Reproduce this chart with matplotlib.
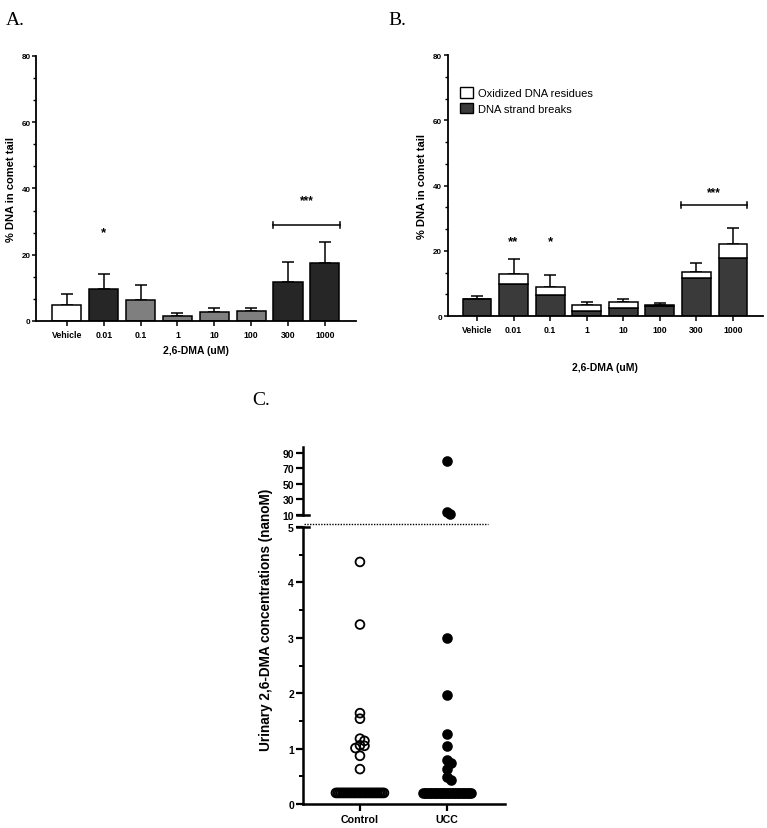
import numpy as np
import matplotlib
matplotlib.use('Agg')
from matplotlib import pyplot as plt
from matplotlib.ticker import AutoMinorLocator, MultipleLocator
from matplotlib.patches import Patch

# ---- data ----
doses = ['Vehicle', '0.01', '0.1', '1', '10', '100', '300', '1000']

# panel A: % DNA in comet tail (mean, upper error)
a_mean = [4.9, 9.7, 6.4, 1.5, 2.7, 3.0, 11.7, 17.5]
a_err = [3.2, 4.4, 4.4, 0.8, 1.1, 1.0, 6.2, 6.4]
a_colors = ['white', '#262626', '#7f7f7f', '#7f7f7f', '#7f7f7f', '#7f7f7f', '#262626', '#262626']

# panel B: strand breaks + oxidized residues (stacked), upper error on total
b_breaks = [5.2, 9.8, 6.3, 1.4, 2.6, 3.1, 11.7, 17.7]
b_oxid = [0.0, 3.2, 2.5, 1.9, 1.6, 0.2, 1.7, 4.4]
b_err = [0.8, 4.4, 3.7, 1.1, 0.9, 0.7, 3.0, 5.0]

# panel C: urinary 2,6-DMA (nanoM)
control_vals = [4.37, 3.24, 1.64, 1.54, 1.18, 1.14, 1.06, 1.05, 1.01, 0.87, 0.63]
ucc_vals = [79.0, 14.0, 11.0, 3.0, 1.97, 1.27, 1.05, 0.80, 0.74, 0.63, 0.48, 0.44]
control_n_low = 30   # samples at 0.2 (below LOD)
ucc_n_low = 30
low_value = 0.2

plt.rcParams['font.family'] = ['Liberation Sans', 'DejaVu Sans']
plt.rcParams['font.weight'] = 'bold'

fig = plt.figure(figsize=(7.67, 8.29), dpi=100)


def style_bar_axes(ax):
    for s in ['top', 'right']:
        ax.spines[s].set_visible(False)
    for s in ['left', 'bottom']:
        ax.spines[s].set_linewidth(1.3)
    ax.set_ylim(0, 80)
    ax.yaxis.set_major_locator(MultipleLocator(20))
    ax.yaxis.set_minor_locator(AutoMinorLocator(3))
    ax.tick_params(axis='y', which='major', length=3, width=1.1, labelsize=5.8, pad=1)
    ax.tick_params(axis='y', which='minor', length=2, width=1.0)
    ax.tick_params(axis='x', length=3.5, width=1.1, labelsize=6.3, pad=3)
    ax.set_ylabel('% DNA in comet tail', fontsize=8, fontweight='bold', labelpad=4)


def bracket(ax, x0, x1, y, txt, ty):
    ax.plot([x0, x1], [y, y], color='black', lw=1.1)
    ax.plot([x0, x0], [y - 0.9, y + 0.9], color='black', lw=1.1)
    ax.plot([x1, x1], [y - 0.9, y + 0.9], color='black', lw=1.1)
    ax.text((x0 + x1) / 2, ty, txt, ha='center', va='center', fontsize=8.5, fontweight='bold')


x = np.arange(len(doses))
bw = 0.79

# ---- A ----
axA = fig.add_axes([0.0469, 0.6116, 0.417, 0.3197])
axA.bar(x, a_mean, width=bw, color=a_colors, edgecolor='black', linewidth=1.1, zorder=2)
axA.errorbar(x, a_mean, yerr=[np.zeros(len(x)), a_err], fmt='none', ecolor='black',
             elinewidth=1.1, capsize=4.5, capthick=1.1, zorder=1)
style_bar_axes(axA)
axA.set_xlim(-0.84, 7.84)
axA.set_xticks(x)
axA.set_xticklabels(doses, fontweight='bold')
axA.set_xlabel('2,6-DMA (uM)', fontsize=7.5, fontweight='bold', labelpad=4)
axA.text(1, 26.7, '*', ha='center', va='center', fontsize=9.5, fontweight='bold')
bracket(axA, 5.6, 7.4, 28.9, '***', 36.6)
fig.text(0.008, 0.985, 'A.', family='Liberation Serif', fontweight='normal', fontsize=14, va='top')

# ---- B ----
axB = fig.add_axes([0.5837, 0.6176, 0.411, 0.3148])
b_total = np.array(b_breaks) + np.array(b_oxid)
axB.bar(x, b_breaks, width=bw, color='#3a3a3a', edgecolor='black', linewidth=1.1, zorder=2,
        label='DNA strand breaks')
axB.bar(x, b_oxid, bottom=b_breaks, width=bw, color='white', edgecolor='black', linewidth=1.1,
        zorder=2, label='Oxidized DNA residues')
axB.errorbar(x, b_total, yerr=[np.zeros(len(x)), b_err], fmt='none', ecolor='black',
             elinewidth=1.1, capsize=4.5, capthick=1.1, zorder=1)
style_bar_axes(axB)
axB.set_xlim(-0.80, 7.82)
axB.set_xticks(x)
axB.set_xticklabels(doses, fontweight='bold')
axB.set_xlabel('2,6-DMA (uM)', fontsize=7.5, fontweight='bold', labelpad=20)
axB.text(1, 22.9, '**', ha='center', va='center', fontsize=9.5, fontweight='bold')
axB.text(2, 22.9, '*', ha='center', va='center', fontsize=9.5, fontweight='bold')
bracket(axB, 5.57, 7.38, 33.9, '***', 38.0)
handles = [Patch(facecolor='white', edgecolor='black', linewidth=1.0),
           Patch(facecolor='#3a3a3a', edgecolor='black', linewidth=1.0)]
axB.legend(handles, ['Oxidized DNA residues', 'DNA strand breaks'], loc='upper left',
           bbox_to_anchor=(0.04, 0.877), frameon=False, borderaxespad=0, borderpad=0,
           handlelength=1.1, handleheight=1.1, handletextpad=0.5, labelspacing=0.4,
           prop={'family': 'Liberation Sans', 'weight': 'normal', 'size': 8})
fig.text(0.506, 0.985, 'B.', family='Liberation Serif', fontweight='normal', fontsize=14, va='top')

# ---- C ----
fig.text(0.329, 0.527, 'C.', family='Liberation Serif', fontweight='normal', fontsize=14, va='top')

c_left, c_width = 0.395, 0.2634
axC = fig.add_axes([c_left, 0.02895, c_width, 0.3341])
axU = fig.add_axes([c_left, 0.3776, c_width, 0.082])

px_x = 87.0   # pixels per x unit
px_y = 55.5   # pixels per y unit (lower segment)


def swarm(vals, min_dist):
    # greedy horizontal spread of nearly-equal values
    placed = []
    offs = []
    for v in vals:
        cands = [0.0]
        for i in range(1, 20):
            cands += [i * 0.5 * min_dist, -i * 0.5 * min_dist]
        for c in cands:
            ok = True
            for (pv, po) in placed:
                dy = (v - pv) * px_y
                dx = c - po
                if dx * dx + dy * dy < min_dist * min_dist:
                    ok = False
                    break
            if ok:
                break
        placed.append((v, c))
        offs.append(c / px_x)
    return np.array(offs)


groups = [(0, control_vals, control_n_low, 'none'), (1, ucc_vals, ucc_n_low, 'black')]
for xc, vals, n_low, fc in groups:
    vals = np.array(vals)
    low = vals[vals <= 5]
    high = vals[vals > 5]
    offs = swarm(low, 4.5)
    low_x = xc + np.linspace(-24, 24, n_low) / px_x
    axC.scatter(low_x, np.full(n_low, low_value), s=40, facecolors=fc, edgecolors='black',
                linewidths=1.3, zorder=3, clip_on=False)
    axC.scatter(xc + offs, low, s=40, facecolors=fc, edgecolors='black', linewidths=1.3,
                zorder=3, clip_on=False)
    if len(high):
        hx = xc + np.array([0.0, 0.0, 0.04][:len(high)])
        axU.scatter(hx, high, s=40, facecolors=fc, edgecolors='black', linewidths=1.3,
                    zorder=3, clip_on=False)

for ax in (axC, axU):
    ax.set_xlim(-0.655, 1.667)
    for s in ['top', 'right']:
        ax.spines[s].set_visible(False)
    ax.spines['left'].set_linewidth(1.8)
    ax.tick_params(axis='y', which='major', length=5, width=1.6, labelsize=7.5, pad=1.5)
    ax.tick_params(axis='y', which='minor', length=3, width=1.4)

axC.set_ylim(0, 5)
axC.spines['bottom'].set_linewidth(1.8)
axC.yaxis.set_major_locator(MultipleLocator(1))
axC.yaxis.set_minor_locator(MultipleLocator(0.5))
axC.set_xticks([0, 1])
axC.set_xticklabels(['Control', 'UCC'], fontweight='bold')
axC.tick_params(axis='x', length=5, width=1.6, labelsize=7.7, pad=2)

axU.set_ylim(10, 97.7)
axU.spines['bottom'].set_visible(False)
axU.set_xticks([])
axU.set_yticks([10, 30, 50, 70, 90])
axU.patch.set_alpha(0)

# caps at the axis break
d = 6.0 / px_x
axC.plot([-0.655 - d, -0.655 + d], [5, 5], color='black', lw=1.8, clip_on=False)
axU.plot([-0.655 - d, -0.655 + d], [10, 10], color='black', lw=1.8, clip_on=False)
# dotted line at the break
axC.plot([-0.645, (488 - 360) / px_x], [5.05, 5.05], color='black', lw=1.0,
         linestyle=(0, (1, 1)), clip_on=False)

fig.text(0.347, 0.252, 'Urinary 2,6-DMA concentrations (nanoM)', rotation=90,
         ha='center', va='center', fontsize=9.8, fontweight='bold')

fig.savefig('out.png', dpi=100)
